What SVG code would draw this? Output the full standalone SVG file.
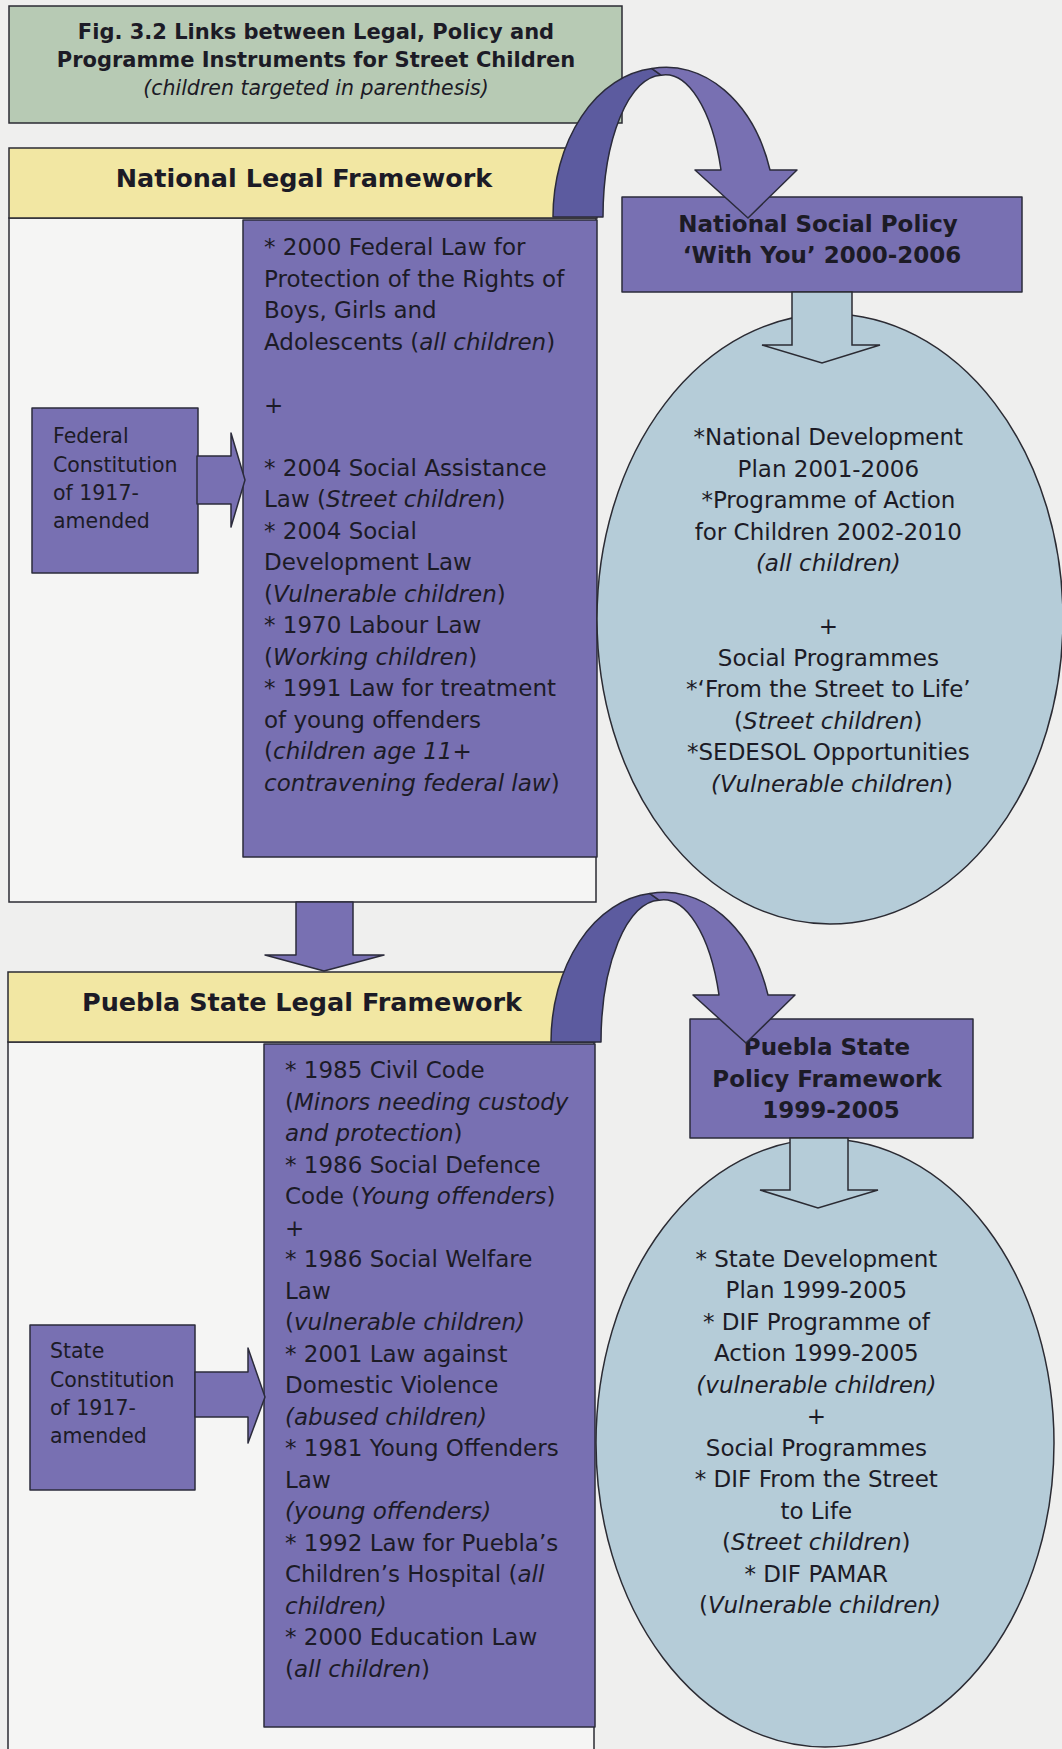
<svg xmlns="http://www.w3.org/2000/svg" width="1062" height="1749" viewBox="0 0 1062 1749">
  <defs>
    <style>
      .bg { fill: #efefee; }
      .frame { fill: #f5f5f4; stroke: #2b2b33; stroke-width: 1.5; }
      .title { fill: #b7cab4; stroke: #2b2b33; stroke-width: 1.5; }
      .header { fill: #f2e7a3; stroke: #2b2b33; stroke-width: 1.5; }
      .purple { fill: #7870b2; stroke: #2b2b3b; stroke-width: 1.5; stroke-linejoin: round; }
      .dark { fill: #5c5b9f; stroke: #2b2b3b; stroke-width: 1.5; stroke-linejoin: round; }
      .oval { fill: #b5ccd8; stroke: #2b2b33; stroke-width: 1.5; }
      text { font-family: "DejaVu Sans", "Liberation Sans", sans-serif; fill: #1c1b26; }
      .body { font-size: 23px; }
      .small { font-size: 20.5px; }
      .bold { font-weight: bold; }
      .head { font-size: 25.5px; font-weight: bold; }
      .ptitle { font-size: 23px; font-weight: bold; }
      .mid { text-anchor: middle; }
      .it { font-style: italic; }
    </style>
    <!-- one curved arrow: the darker back band and the lighter front band with its head -->
    <g id="curved-arrow">
      <path class="dark" d="M553,217 A109,149 0 0 1 652,68.6 L661,75.2 A59,142 0 0 0 603,217 Z"/>
      <path class="purple" d="M652,68.6 A109,149 0 0 1 770,170 L797,170 L748,218 L695,170 L721,170 A59,142 0 0 0 661,75.2 Z"/>
    </g>
  </defs>

  <rect class="bg" x="0" y="0" width="1062" height="1749"/>

  <!-- Figure title -->
  <g id="figure-title">
    <rect class="title" x="9" y="6" width="613" height="117"/>
    <text class="mid bold" x="316" y="39" font-size="21">Fig. 3.2 Links between Legal, Policy and</text>
    <text class="mid bold" x="316" y="67" font-size="21">Programme Instruments for Street Children</text>
    <text class="mid it" x="316" y="95" font-size="20.5">(children targeted in parenthesis)</text>
  </g>

  <!-- National legal framework panel -->
  <g id="national-legal-framework">
    <rect class="frame" x="9" y="218" width="587" height="684"/>
    <rect class="header" x="9" y="148" width="588" height="70"/>
    <text class="head mid" x="304" y="187">National Legal Framework</text>
  </g>

  <g id="federal-constitution">
    <rect class="purple" x="32" y="408" width="166" height="165"/>
    <text class="small">
      <tspan x="53" y="443">Federal</tspan>
      <tspan x="53" y="471.5">Constitution</tspan>
      <tspan x="53" y="500">of 1917-</tspan>
      <tspan x="53" y="528">amended</tspan>
    </text>
  </g>

  <g id="national-laws">
    <rect class="purple" x="243" y="220" width="354" height="637"/>
    <text class="body">
      <tspan x="264" y="255">* 2000 Federal Law for</tspan>
      <tspan x="264" y="286.5">Protection of the Rights of</tspan>
      <tspan x="264" y="318">Boys, Girls and</tspan>
      <tspan x="264" y="349.5">Adolescents (<tspan class="it">all children</tspan>)</tspan>
      <tspan x="264" y="412.5">+</tspan>
      <tspan x="264" y="475.5">* 2004 Social Assistance</tspan>
      <tspan x="264" y="507">Law (<tspan class="it">Street children</tspan>)</tspan>
      <tspan x="264" y="538.5">* 2004 Social</tspan>
      <tspan x="264" y="570">Development Law</tspan>
      <tspan x="264" y="601.5">(<tspan class="it">Vulnerable children</tspan>)</tspan>
      <tspan x="264" y="633">* 1970 Labour Law</tspan>
      <tspan x="264" y="664.5">(<tspan class="it">Working children</tspan>)</tspan>
      <tspan x="264" y="696">* 1991 Law for treatment</tspan>
      <tspan x="264" y="727.5">of young offenders</tspan>
      <tspan x="264" y="759">(<tspan class="it">children age 11+</tspan></tspan>
      <tspan x="264" y="790.5" class="it">contravening federal law<tspan font-style="normal">)</tspan></tspan>
    </text>
  </g>

  <!-- Puebla state legal framework panel -->
  <g id="puebla-legal-framework">
    <rect class="frame" x="8" y="1042" width="586" height="730"/>
    <rect class="header" x="8" y="972" width="587" height="70"/>
    <text class="head mid" x="302" y="1011">Puebla State Legal Framework</text>
  </g>

  <g id="state-constitution">
    <rect class="purple" x="30" y="1325" width="165" height="165"/>
    <text class="small">
      <tspan x="50" y="1358">State</tspan>
      <tspan x="50" y="1386.5">Constitution</tspan>
      <tspan x="50" y="1415">of 1917-</tspan>
      <tspan x="50" y="1443">amended</tspan>
    </text>
  </g>

  <g id="puebla-laws">
    <rect class="purple" x="264" y="1044" width="331" height="683"/>
    <text class="body">
      <tspan x="285" y="1078">* 1985 Civil Code</tspan>
      <tspan x="285" y="1109.5">(<tspan class="it">Minors needing custody</tspan></tspan>
      <tspan x="285" y="1141" class="it">and protection<tspan font-style="normal">)</tspan></tspan>
      <tspan x="285" y="1172.5">* 1986 Social Defence</tspan>
      <tspan x="285" y="1204">Code (<tspan class="it">Young offenders</tspan>)</tspan>
      <tspan x="285" y="1235.5">+</tspan>
      <tspan x="285" y="1267">* 1986 Social Welfare</tspan>
      <tspan x="285" y="1298.5">Law</tspan>
      <tspan x="285" y="1330">(<tspan class="it">vulnerable children)</tspan></tspan>
      <tspan x="285" y="1361.5">* 2001 Law against</tspan>
      <tspan x="285" y="1393">Domestic Violence</tspan>
      <tspan x="285" y="1424.5" class="it">(abused children)</tspan>
      <tspan x="285" y="1456">* 1981 Young Offenders</tspan>
      <tspan x="285" y="1487.5">Law</tspan>
      <tspan x="285" y="1519" class="it">(young offenders)</tspan>
      <tspan x="285" y="1550.5">* 1992 Law for Puebla’s</tspan>
      <tspan x="285" y="1582">Children’s Hospital (<tspan class="it">all</tspan></tspan>
      <tspan x="285" y="1613.5" class="it">children)</tspan>
      <tspan x="285" y="1645">* 2000 Education Law</tspan>
      <tspan x="285" y="1676.5">(<tspan class="it">all children</tspan>)</tspan>
    </text>
  </g>

  <!-- National policy and programmes -->
  <g id="national-programmes">
    <ellipse class="oval" cx="830" cy="619" rx="233" ry="305"/>
    <text class="body mid">
      <tspan x="832" y="445">*National Development</tspan>
      <tspan x="832" y="476.5">Plan 2001-2006</tspan>
      <tspan x="832" y="508">*Programme of Action</tspan>
      <tspan x="832" y="539.5">for Children 2002-2010</tspan>
      <tspan x="832" y="571" class="it">(all children)</tspan>
      <tspan x="832" y="634">+</tspan>
      <tspan x="832" y="665.5">Social Programmes</tspan>
      <tspan x="832" y="697">*‘From the Street to Life’</tspan>
      <tspan x="832" y="728.5">(<tspan class="it">Street children</tspan>)</tspan>
      <tspan x="832" y="760">*SEDESOL Opportunities</tspan>
      <tspan x="832" y="791.5"><tspan class="it">(Vulnerable children</tspan>)</tspan>
    </text>
  </g>

  <g id="national-social-policy">
    <rect class="purple" x="622" y="197" width="400" height="95"/>
    <text class="ptitle mid">
      <tspan x="822" y="232">National Social Policy</tspan>
      <tspan x="822" y="263">‘With You’ 2000-2006</tspan>
    </text>
  </g>

  <!-- Puebla policy and programmes -->
  <g id="puebla-programmes">
    <ellipse class="oval" cx="825" cy="1443" rx="229" ry="304"/>
    <text class="body mid">
      <tspan x="820" y="1266.5">* State Development</tspan>
      <tspan x="820" y="1298">Plan 1999-2005</tspan>
      <tspan x="820" y="1329.5">* DIF Programme of</tspan>
      <tspan x="820" y="1361">Action 1999-2005</tspan>
      <tspan x="820" y="1392.5" class="it">(vulnerable children)</tspan>
      <tspan x="820" y="1424">+</tspan>
      <tspan x="820" y="1455.5">Social Programmes</tspan>
      <tspan x="820" y="1487">* DIF From the Street</tspan>
      <tspan x="820" y="1518.5">to Life</tspan>
      <tspan x="820" y="1550">(<tspan class="it">Street children</tspan>)</tspan>
      <tspan x="820" y="1581.5">* DIF PAMAR</tspan>
      <tspan x="820" y="1613">(<tspan class="it">Vulnerable children)</tspan></tspan>
    </text>
  </g>

  <g id="puebla-policy-framework">
    <rect class="purple" x="690" y="1019" width="283" height="119"/>
    <text class="ptitle mid">
      <tspan x="831" y="1055">Puebla State</tspan>
      <tspan x="831" y="1087">Policy Framework</tspan>
      <tspan x="831" y="1118">1999-2005</tspan>
    </text>
  </g>

  <!-- Connectors: block arrows and curved arrows -->
  <g id="connectors">
    <!-- constitution boxes into the law lists -->
    <path class="purple" d="M197,456 L231,456 L231,433 L245,480 L231,527 L231,504 L197,504 Z"/>
    <path class="purple" d="M195,1372 L248,1372 L248,1348 L265,1397 L248,1443 L248,1417 L195,1417 Z"/>
    <!-- national framework down to the state framework -->
    <path class="purple" d="M296,902 L353,902 L353,955 L384,955 L324,971 L265,955 L296,955 Z"/>
    <!-- policy boxes down into their programme ovals -->
    <path class="oval" d="M792,292 L852,292 L852,345 L880,345 L822,363 L762,345 L792,345 Z"/>
    <path class="oval" d="M790,1138 L848,1138 L848,1190 L878,1190 L818,1208 L760,1190 L790,1190 Z"/>
    <!-- curved arrows from legal frameworks to policy boxes -->
    <use id="curve-national" href="#curved-arrow"/>
    <use id="curve-puebla" href="#curved-arrow" transform="translate(-2,825)"/>
  </g>
</svg>
